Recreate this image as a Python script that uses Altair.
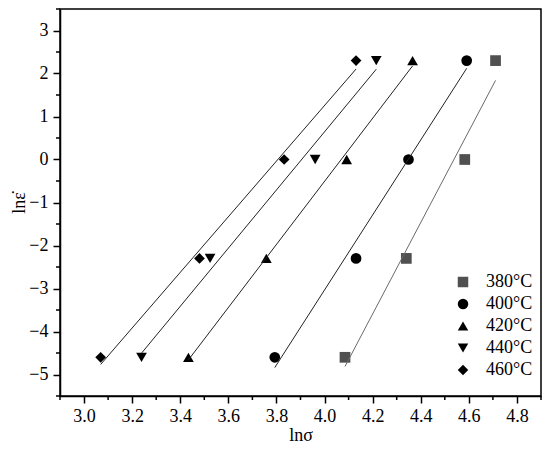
import altair as alt
import pandas as pd

temps = ["380°C", "400°C", "420°C", "440°C", "460°C"]
ln_rate = [-4.6, -2.3, 0.0, 2.3]
ln_sigma_380 = [4.085, 4.340, 4.583, 4.711]
ln_sigma_400 = [3.793, 4.131, 4.349, 4.591]
ln_sigma_420 = [3.434, 3.758, 4.092, 4.366]
ln_sigma_440 = [3.239, 3.524, 3.961, 4.215]
ln_sigma_460 = [3.069, 3.480, 3.832, 4.131]

x_major = [3.0, 3.2, 3.4, 3.6, 3.8, 4.0, 4.2, 4.4, 4.6, 4.8]
x_minor = [2.9, 3.1, 3.3, 3.5, 3.7, 3.9, 4.1, 4.3, 4.5, 4.7, 4.9]
y_major = [-5, -4, -3, -2, -1, 0, 1, 2, 3]
y_minor = [-5.5, -4.5, -3.5, -2.5, -1.5, -0.5, 0.5, 1.5, 2.5, 3.5]

series = [ln_sigma_380, ln_sigma_400, ln_sigma_420, ln_sigma_440, ln_sigma_460]
rows = []
for t, xs in zip(temps, series):
    for xv, yv in zip(xs, ln_rate):
        rows.append({"T": t, "x": xv, "y": yv})
df = pd.DataFrame(rows)

shapes = ["square", "circle", "triangle-up", "triangle-down", "diamond"]
point_colors = ["#505050", "black", "black", "black", "black"]

FONT = "Times New Roman, Liberation Serif, serif"
W, H = 481, 387

xscale = alt.Scale(domain=[2.9, 4.9], nice=False, zero=False)
yscale = alt.Scale(domain=[-5.5, 3.5], nice=False, zero=False)

x_axis = alt.Axis(values=x_major, format=".1f", tickSize=7, grid=False, title="lnσ",
                  labelFlush=False, labelOverlap=False, labelPadding=4, titlePadding=1)
y_axis = alt.Axis(values=y_major, format="d", tickSize=7, grid=False, title="lnε̇",
                  labelFlush=False, labelOverlap=False, labelPadding=5, titlePadding=0)

legend = alt.Legend(title=None, orient="none", legendX=394, legendY=264,
                    labelFont=FONT, labelFontSize=18, symbolSize=110,
                    rowPadding=4, labelOffset=14, labelColor="black")

points = alt.Chart(df).mark_point(filled=True, opacity=1, size=115).encode(
    x=alt.X("x:Q", scale=xscale, axis=x_axis),
    y=alt.Y("y:Q", scale=yscale, axis=y_axis),
    shape=alt.Shape("T:N", scale=alt.Scale(domain=temps, range=shapes), legend=legend),
    color=alt.Color("T:N", scale=alt.Scale(domain=temps, range=point_colors), legend=legend),
)

lines_gray = alt.Chart(df).transform_filter(
    alt.datum.T == temps[0]
).transform_regression("x", "y").mark_line(strokeWidth=1, color="#6a6a6a").encode(
    x=alt.X("x:Q", scale=xscale), y=alt.Y("y:Q", scale=yscale))

lines_black = alt.Chart(df).transform_filter(
    alt.datum.T != temps[0]
).transform_regression("x", "y", groupby=["T"]).mark_line(strokeWidth=1, color="#222222").encode(
    x=alt.X("x:Q", scale=xscale), y=alt.Y("y:Q", scale=yscale), detail="T:N")

xminor = alt.Chart(pd.DataFrame({"x": x_minor})).mark_rule(color="black", strokeWidth=1.5).encode(
    x=alt.X("x:Q", scale=xscale), y=alt.value(H), y2=alt.value(H + 4))
yminor = alt.Chart(pd.DataFrame({"y": y_minor})).mark_rule(color="black", strokeWidth=1.5).encode(
    y=alt.Y("y:Q", scale=yscale), x=alt.value(0), x2=alt.value(-4))

chart = alt.layer(points, lines_gray, lines_black, xminor, yminor).properties(
    width=W, height=H,
    autosize=alt.AutoSizeParams(type="none"),
    padding={"left": 52, "top": 1, "right": 1, "bottom": 50},
).configure_view(stroke="black", strokeWidth=1.5, clip=False).configure_axis(
    domainColor="black", domainWidth=1.5, tickColor="black", tickWidth=1.5,
    labelFont=FONT, labelFontSize=18, labelColor="black",
    titleFont=FONT, titleFontSize=18, titleColor="black", titleFontWeight="normal",
)

chart.save("out.html", embed_options={"renderer": "svg", "actions": False})
